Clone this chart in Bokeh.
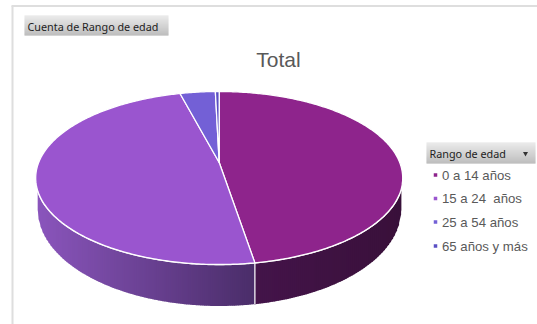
import numpy as np
from bokeh.embed import file_html
from bokeh.models import ColumnDataSource
from bokeh.plotting import figure
from bokeh.resources import INLINE

# Pivot chart data: share of each age range
categories = ["0 a 14 años", "15 a 24\u00a0 años", "25 a 54 años", "65 años y más"]
counts = [47.4, 48.5, 3.7, 0.4]
top_colors = ["#8E248C", "#9A55CF", "#7360D6", "#5A4FC4"]
title = "Total"
field_button = "Cuenta de Rango de edad"
legend_button = "Rango de edad"

# Pie geometry in pixels
CX, APEX_Y = 218.7, 162.0
TOP_Y, BOTTOM_Y, RX = 91.0, 264.0, 183.5
BASE_CY, BASE_RX, BASE_RY = 209.5, 181.5, 96.0
SIDE_START_Y = 190.0

up, down = APEX_Y - TOP_Y, BOTTOM_Y - APEX_Y
K = (down - up) / (down + up)
A = up * (1 + K)
B = RX * np.sqrt(1 - K * K)


def rim(theta):
    """Projects a clockwise pie angle from 12 o'clock onto the tilted disc."""
    u, v = np.sin(theta), -np.cos(theta)
    w = 1 - K * v
    return CX + B * u / w, APEX_Y + A * v / w


def mix(c0, c1, t):
    a = np.array([int(c0[i:i + 2], 16) for i in (1, 3, 5)], float)
    b = np.array([int(c1[i:i + 2], 16) for i in (1, 3, 5)], float)
    r = a + (b - a) * t
    return "#%02x%02x%02x" % tuple(int(round(x)) for x in r)


p = figure(width=537, height=324, x_range=(0, 537), y_range=(324, 0),
           output_backend="svg", toolbar_location=None, min_border=0,
           outline_line_color=None, background_fill_color="white")
p.axis.visible = False
p.grid.visible = False

# Frame of the pivot chart
p.segment([12, 11], [5.5, 5.5], [12, 537], [324, 5.5], line_color="#DEDEDE", line_width=2)

edges = np.cumsum([0] + counts) / sum(counts) * 2 * np.pi

# Extruded side wall, shaded in narrow strips from left to right
ell_x, ell_y = rim(np.linspace(0, 2 * np.pi, 1441))
front = ell_y > SIDE_START_Y
order = np.argsort(ell_x[front])
fx, fy = ell_x[front][order], ell_y[front][order]
boundary_x = rim(edges[1])[0]
xs = np.unique(np.concatenate([[fx[0]], np.arange(np.ceil(fx[0]), fx[-1], 2.0), [boundary_x, fx[-1]]]))
ys = np.interp(xs, fx, fy)
base = BASE_CY + BASE_RY * np.sqrt(np.clip(1 - ((xs - CX) / BASE_RX) ** 2, 0, 1))
sx, sy, sc = [], [], []
for i in range(len(xs) - 1):
    mid = (xs[i] + xs[i + 1]) / 2
    if mid < boundary_x:
        col = mix("#8A55BC", "#4A2D69", (mid - xs[0]) / (boundary_x - xs[0]))
    else:
        col = mix("#44144A", "#39103A", (mid - boundary_x) / (xs[-1] - boundary_x))
    sx.append([xs[i], xs[i + 1] + 0.6, xs[i + 1] + 0.6, xs[i]])
    sy.append([ys[i], ys[i + 1], base[i + 1], base[i]])
    sc.append(col)
p.patches(sx, sy, fill_color=sc, line_color=None)

# Rim highlight and the seam between the two visible wall sections
p.line(xs, ys, line_color="white", line_width=1.6)
seam_top = np.interp(boundary_x, xs, ys)
seam_bottom = BASE_CY + BASE_RY * np.sqrt(1 - ((boundary_x - CX) / BASE_RX) ** 2)
p.segment([boundary_x], [seam_top], [boundary_x], [seam_bottom], line_color="#E8E4EC", line_width=1.4)

# Top face slices
px, py = [], []
for start, stop in zip(edges[:-1], edges[1:]):
    t = np.linspace(start, stop, max(3, int((stop - start) * 90)))
    x, y = rim(t)
    px.append(np.r_[CX, x].tolist())
    py.append(np.r_[APEX_Y, y].tolist())
p.patches(px, py, fill_color=top_colors, line_color="white", line_width=1.3, line_join="round")

# Title
p.text([278], [59], text=[title], text_font_size="21px", text_color="#595959",
       text_font={"value": "Liberation Sans"}, text_align="center", text_baseline="middle")


def button(x0, x1, y0, y1):
    rows = np.arange(y0, y1)
    cols = [mix("#E4E4E4", "#A9A9A9", (r - y0) / (y1 - y0 - 1)) for r in rows]
    p.quad(left=x0, right=x1, top=rows, bottom=rows + 1, fill_color=cols, line_color=None)


# Field buttons
button(24, 168, 15, 35)
p.text([27], [25.5], text=[field_button], text_font_size="10.8px", text_color="#1E1E1E",
       text_font={"value": "Noto Sans"}, text_baseline="middle")
button(426, 535, 142, 163)
p.text([429], [152.5], text=[legend_button], text_font_size="10.8px", text_color="#1E1E1E",
       text_font={"value": "Noto Sans"}, text_baseline="middle")
p.scatter([525], [153], marker="inverted_triangle", size=5, fill_color="#333333", line_color=None)

# Legend entries
rows_y = [174.5, 198, 221.5, 245.5]
p.scatter([435] * 4, rows_y, marker="square", size=3.5, fill_color=top_colors, line_color=None)
legend = ColumnDataSource(dict(x=[441.5] * 4, y=rows_y, label=categories))
p.text("x", "y", text="label", source=legend, text_font_size="13.2px", text_color="#595959",
       text_font={"value": "Liberation Sans"}, text_baseline="middle")

open("out.html", "w").write(file_html(p, INLINE))
